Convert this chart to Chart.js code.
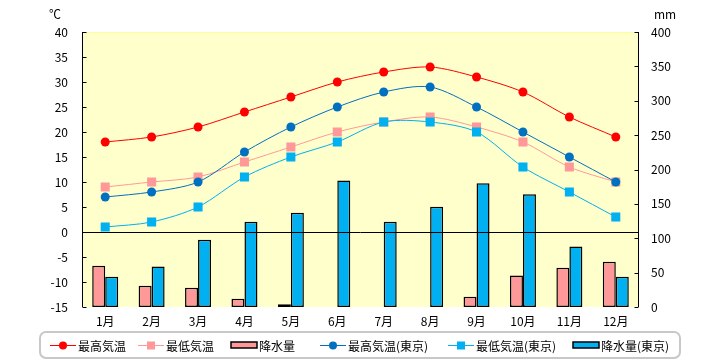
<!DOCTYPE html>
<html>
<head>
<meta charset="utf-8">
<script src="https://cdn.jsdelivr.net/npm/chart.js@4.4.1/dist/chart.umd.min.js"></script>
<style>
  body { margin: 0; background: #fff; }
  #wrap { width: 720px; height: 360px; position: relative; }
</style>
</head>
<body>
<div id="wrap"><canvas id="climateChart"></canvas></div>
<script>
var months = ['1月', '2月', '3月', '4月', '5月', '6月', '7月', '8月', '9月', '10月', '11月', '12月'];
var tempMax = [18, 19, 21, 24, 27, 30, 32, 33, 31, 28, 23, 19];
var tempMin = [9, 10, 11, 14, 17, 20, 22, 23, 21, 18, 13, 10];
var rain = [60, 31, 28, 12, 4, 0, 0, 0, 15, 46, 57, 66];
var tokyoMax = [7, 8, 10, 16, 21, 25, 28, 29, 25, 20, 15, 10];
var tokyoMin = [1, 2, 5, 11, 15, 18, 22, 22, 20, 13, 8, 3];
var tokyoRain = [44, 59, 98, 124, 137, 184, 124, 146, 180, 164, 88, 44];
var tempTicks = [-15, -10, -5, 0, 5, 10, 15, 20, 25, 30, 35, 40];
var rainTicks = [0, 50, 100, 150, 200, 250, 300, 350, 400];

var FONT = '"Noto Sans CJK JP", "Noto Sans", sans-serif';
var RED = '#FF0000', PINK = '#FF9999', BLUE = '#0070C0', SKY = '#00B0F0';

// legend entries, x = start of sample
var legendItems = [
     { text: '最高気温', type: 'line', color: RED, marker: 'circle', x: 50 },
     { text: '最低気温', type: 'line', color: PINK, marker: 'rect', x: 138 },
     { text: '降水量', type: 'bar', color: PINK, x: 231 },
     { text: '最高気温(東京)', type: 'line', color: BLUE, marker: 'circle', x: 320 },
     { text: '最低気温(東京)', type: 'line', color: SKY, marker: 'rect', x: 448 },
     { text: '降水量(東京)', type: 'bar', color: SKY, x: 573 }
];

var decorPlugin = {
     id: 'decor',
     beforeDraw: function(chart) {
          var ctx = chart.ctx, a = chart.chartArea;
          ctx.save();
          ctx.fillStyle = '#FFFFCC';
          ctx.fillRect(a.left, a.top, a.right - a.left, a.bottom - a.top);
          ctx.restore();
     },
     afterDatasetsDraw: function(chart) {
          var ctx = chart.ctx, a = chart.chartArea;
          var yT = chart.scales.yTemp, yR = chart.scales.yRain;
          ctx.save();
          // zero line
          var z = Math.round(yT.getPixelForValue(0)) + 0.5;
          ctx.strokeStyle = '#000';
          ctx.lineWidth = 1;
          ctx.beginPath();
          ctx.moveTo(a.left, z);
          ctx.lineTo(a.right, z);
          ctx.stroke();
          // top border
          ctx.strokeStyle = '#FFFF99';
          ctx.beginPath();
          ctx.moveTo(a.left, a.top + 0.5);
          ctx.lineTo(a.right, a.top + 0.5);
          ctx.stroke();
          // axes + inward tick marks
          ctx.strokeStyle = '#000';
          var L = Math.round(a.left) + 0.5, R = Math.round(a.right) - 0.5;
          ctx.beginPath();
          ctx.moveTo(L, a.top);
          ctx.lineTo(L, a.bottom);
          ctx.moveTo(R, a.top);
          ctx.lineTo(R, a.bottom);
          tempTicks.forEach(function(v) {
               var y = Math.round(yT.getPixelForValue(v)) + 0.5;
               ctx.moveTo(L, y);
               ctx.lineTo(L + 4, y);
          });
          rainTicks.forEach(function(v) {
               var y = Math.round(yR.getPixelForValue(v)) + 0.5;
               ctx.moveTo(R, y);
               ctx.lineTo(R - 4, y);
          });
          ctx.stroke();
          ctx.restore();
     },
     afterDraw: function(chart) {
          var ctx = chart.ctx;
          ctx.save();
          ctx.fillStyle = '#000';
          ctx.font = '12px ' + FONT;
          ctx.textAlign = 'center';
          ctx.textBaseline = 'middle';
          ctx.fillText('℃', 55, 14);
          ctx.fillText('mm', 665, 14);

          // legend box
          ctx.strokeStyle = '#C8C8C8';
          ctx.lineWidth = 2;
          ctx.beginPath();
          ctx.roundRect(40, 332, 640, 26, 6);
          ctx.stroke();

          var cy = 345;
          ctx.textAlign = 'left';
          legendItems.forEach(function(it) {
               if (it.type === 'line') {
                    ctx.strokeStyle = it.color;
                    ctx.lineWidth = 1;
                    ctx.beginPath();
                    ctx.moveTo(it.x, cy + 0.5);
                    ctx.lineTo(it.x + 26, cy + 0.5);
                    ctx.stroke();
                    ctx.fillStyle = it.color;
                    if (it.marker === 'circle') {
                         ctx.beginPath();
                         ctx.arc(it.x + 13, cy + 0.5, 4, 0, Math.PI * 2);
                         ctx.fill();
                    } else {
                         ctx.fillRect(it.x + 9, cy - 3.5, 8, 8);
                    }
               } else {
                    ctx.fillStyle = it.color;
                    ctx.fillRect(it.x, cy - 3, 26, 6);
                    ctx.strokeStyle = '#000';
                    ctx.lineWidth = 1.5;
                    ctx.strokeRect(it.x, cy - 3, 26, 6);
               }
               ctx.fillStyle = '#000';
               ctx.fillText(it.text, it.x + 28, cy + 1);
          });
          ctx.restore();
     }
};

// lower order is drawn on top
function lineSet(label, data, color, style, order) {
     return {
          type: 'line',
          label: label,
          data: data,
          yAxisID: 'yTemp',
          borderColor: color,
          backgroundColor: color,
          borderWidth: 1,
          pointStyle: style,
          pointRadius: style === 'rect' ? 6.4 : 4.5,
          pointBorderWidth: 0,
          pointHoverRadius: 5,
          tension: 0.3,
          fill: false,
          order: order
     };
}

function barSet(label, data, color) {
     return {
          type: 'bar',
          label: label,
          data: data,
          yAxisID: 'yRain',
          backgroundColor: color,
          borderColor: '#000000',
          borderWidth: 1.5,
          borderSkipped: false,
          categoryPercentage: 0.56,
          barPercentage: 1.0,
          order: 10
     };
}

new Chart(document.getElementById('climateChart'), {
     data: {
          labels: months,
          datasets: [
               lineSet('最高気温', tempMax, RED, 'circle', 4),
               lineSet('最低気温', tempMin, PINK, 'rect', 3),
               barSet('降水量', rain, PINK),
               lineSet('最高気温(東京)', tokyoMax, BLUE, 'circle', 2),
               lineSet('最低気温(東京)', tokyoMin, SKY, 'rect', 1),
               barSet('降水量(東京)', tokyoRain, SKY)
          ]
     },
     options: {
          responsive: true,
          maintainAspectRatio: false,
          animation: false,
          layout: { padding: { top: 32, left: 0, right: 0, bottom: 0 } },
          plugins: {
               legend: { display: false },
               tooltip: { enabled: true }
          },
          scales: {
               x: {
                    grid: { display: false, drawTicks: false },
                    border: { display: false },
                    ticks: { color: '#000', font: { family: FONT, size: 12 }, padding: 7, maxRotation: 0 },
                    afterFit: function(s) { s.height = 53; }
               },
               yTemp: {
                    position: 'left',
                    min: -15,
                    max: 40,
                    afterBuildTicks: function(s) { s.ticks = tempTicks.map(function(v) { return { value: v }; }); },
                    grid: { display: false, drawTicks: false },
                    border: { display: false },
                    ticks: { color: '#000', font: { family: FONT, size: 12 }, padding: 14 },
                    afterFit: function(s) { s.width = 82; }
               },
               yRain: {
                    position: 'right',
                    min: 0,
                    max: 400,
                    afterBuildTicks: function(s) { s.ticks = rainTicks.map(function(v) { return { value: v }; }); },
                    grid: { display: false, drawTicks: false },
                    border: { display: false },
                    ticks: { color: '#000', font: { family: FONT, size: 12 }, padding: 12 },
                    afterFit: function(s) { s.width = 81; }
               }
          }
     },
     plugins: [decorPlugin]
});
</script>
</body>
</html>
